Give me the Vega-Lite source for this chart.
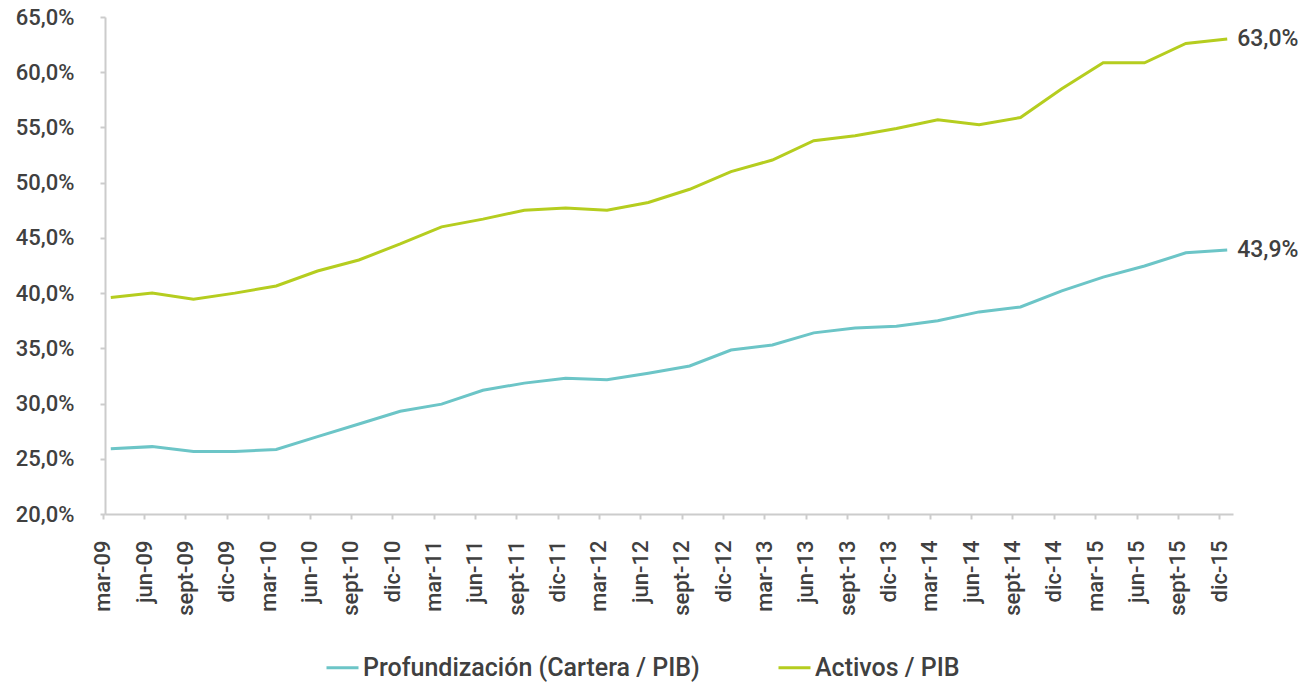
{
  "$schema": "https://vega.github.io/schema/vega-lite/v6.json",
  "autosize": "none",
  "width": 1128,
  "height": 497,
  "padding": {"left": 105, "top": 17, "right": 78, "bottom": 168},
  "background": "white",
  "config": {
    "locale": {"number": {"decimal": ",", "thousands": ".", "grouping": [3], "currency": ["", " €"]}},
    "view": {"stroke": null},
    "font": "Roboto",
    "axis": {"labelFont": "Roboto", "labelColor": "#404040", "labelFontSize": 22, "labelFontWeight": 500, "labelOverlap": false, "domainColor": "#cccccc", "domainWidth": 2, "tickColor": "#cccccc", "tickWidth": 2, "tickSize": 5, "grid": false, "title": null}
  },
  "data": {"values": [
    {"q": "mar-09", "s": "Profundización (Cartera / PIB)", "v": 0.259},
    {"q": "jun-09", "s": "Profundización (Cartera / PIB)", "v": 0.261},
    {"q": "sept-09", "s": "Profundización (Cartera / PIB)", "v": 0.2565},
    {"q": "dic-09", "s": "Profundización (Cartera / PIB)", "v": 0.2565},
    {"q": "mar-10", "s": "Profundización (Cartera / PIB)", "v": 0.2585},
    {"q": "jun-10", "s": "Profundización (Cartera / PIB)", "v": 0.270},
    {"q": "sept-10", "s": "Profundización (Cartera / PIB)", "v": 0.2815},
    {"q": "dic-10", "s": "Profundización (Cartera / PIB)", "v": 0.293},
    {"q": "mar-11", "s": "Profundización (Cartera / PIB)", "v": 0.2995},
    {"q": "jun-11", "s": "Profundización (Cartera / PIB)", "v": 0.312},
    {"q": "sept-11", "s": "Profundización (Cartera / PIB)", "v": 0.3185},
    {"q": "dic-11", "s": "Profundización (Cartera / PIB)", "v": 0.323},
    {"q": "mar-12", "s": "Profundización (Cartera / PIB)", "v": 0.3215},
    {"q": "jun-12", "s": "Profundización (Cartera / PIB)", "v": 0.3275},
    {"q": "sept-12", "s": "Profundización (Cartera / PIB)", "v": 0.334},
    {"q": "dic-12", "s": "Profundización (Cartera / PIB)", "v": 0.3485},
    {"q": "mar-13", "s": "Profundización (Cartera / PIB)", "v": 0.353},
    {"q": "jun-13", "s": "Profundización (Cartera / PIB)", "v": 0.364},
    {"q": "sept-13", "s": "Profundización (Cartera / PIB)", "v": 0.3685},
    {"q": "dic-13", "s": "Profundización (Cartera / PIB)", "v": 0.370},
    {"q": "mar-14", "s": "Profundización (Cartera / PIB)", "v": 0.375},
    {"q": "jun-14", "s": "Profundización (Cartera / PIB)", "v": 0.383},
    {"q": "sept-14", "s": "Profundización (Cartera / PIB)", "v": 0.3875},
    {"q": "dic-14", "s": "Profundización (Cartera / PIB)", "v": 0.402},
    {"q": "mar-15", "s": "Profundización (Cartera / PIB)", "v": 0.4145},
    {"q": "jun-15", "s": "Profundización (Cartera / PIB)", "v": 0.4245},
    {"q": "sept-15", "s": "Profundización (Cartera / PIB)", "v": 0.4365},
    {"q": "dic-15", "s": "Profundización (Cartera / PIB)", "v": 0.439},
    {"q": "mar-09", "s": "Activos / PIB", "v": 0.396},
    {"q": "jun-09", "s": "Activos / PIB", "v": 0.400},
    {"q": "sept-09", "s": "Activos / PIB", "v": 0.3945},
    {"q": "dic-09", "s": "Activos / PIB", "v": 0.400},
    {"q": "mar-10", "s": "Activos / PIB", "v": 0.4065},
    {"q": "jun-10", "s": "Activos / PIB", "v": 0.420},
    {"q": "sept-10", "s": "Activos / PIB", "v": 0.430},
    {"q": "dic-10", "s": "Activos / PIB", "v": 0.4445},
    {"q": "mar-11", "s": "Activos / PIB", "v": 0.460},
    {"q": "jun-11", "s": "Activos / PIB", "v": 0.467},
    {"q": "sept-11", "s": "Activos / PIB", "v": 0.475},
    {"q": "dic-11", "s": "Activos / PIB", "v": 0.477},
    {"q": "mar-12", "s": "Activos / PIB", "v": 0.475},
    {"q": "jun-12", "s": "Activos / PIB", "v": 0.482},
    {"q": "sept-12", "s": "Activos / PIB", "v": 0.494},
    {"q": "dic-12", "s": "Activos / PIB", "v": 0.510},
    {"q": "mar-13", "s": "Activos / PIB", "v": 0.5205},
    {"q": "jun-13", "s": "Activos / PIB", "v": 0.538},
    {"q": "sept-13", "s": "Activos / PIB", "v": 0.5425},
    {"q": "dic-13", "s": "Activos / PIB", "v": 0.549},
    {"q": "mar-14", "s": "Activos / PIB", "v": 0.557},
    {"q": "jun-14", "s": "Activos / PIB", "v": 0.5525},
    {"q": "sept-14", "s": "Activos / PIB", "v": 0.559},
    {"q": "dic-14", "s": "Activos / PIB", "v": 0.585},
    {"q": "mar-15", "s": "Activos / PIB", "v": 0.6085},
    {"q": "jun-15", "s": "Activos / PIB", "v": 0.6085},
    {"q": "sept-15", "s": "Activos / PIB", "v": 0.626},
    {"q": "dic-15", "s": "Activos / PIB", "v": 0.630}
  ]},
  "encoding": {
    "x": {"field": "q", "type": "ordinal", "sort": null,
      "scale": {"type": "point", "padding": 0.14},
      "axis": {"labelAngle": -90, "labelPadding": 21, "tickOffset": -8, "labelFontSize": 22}},
    "y": {"field": "v", "type": "quantitative",
      "scale": {"domain": [0.2, 0.65], "nice": false, "zero": false},
      "axis": {"format": ".1%", "values": [0.2, 0.25, 0.3, 0.35, 0.4, 0.45, 0.5, 0.55, 0.6, 0.65], "labelPadding": 26}},
    "color": {"field": "s", "type": "nominal", "sort": ["Profundización (Cartera / PIB)", "Activos / PIB"],
      "scale": {"domain": ["Profundización (Cartera / PIB)", "Activos / PIB"], "range": ["#6cc5c7", "#b5cd1f"]},
      "legend": {"orient": "none", "legendX": 220, "legendY": 633, "direction": "horizontal", "title": null,
        "symbolType": "stroke", "symbolSize": 1024, "symbolStrokeWidth": 3, "labelFontSize": 25, "labelFontWeight": 500, "labelColor": "#404040", "labelFont": "Roboto", "columnPadding": 72, "labelOffset": 3, "labelLimit": 600}}
  },
  "layer": [
    {"mark": {"type": "line", "strokeWidth": 3}},
    {"transform": [{"filter": "datum.q === 'dic-15'"}],
     "mark": {"type": "text", "align": "left", "baseline": "middle", "dx": 10, "fontSize": 23, "fontWeight": 500, "font": "Roboto"},
     "encoding": {"text": {"field": "v", "type": "quantitative", "format": ".1%"}, "color": {"value": "#404040"}}}
  ]
}
